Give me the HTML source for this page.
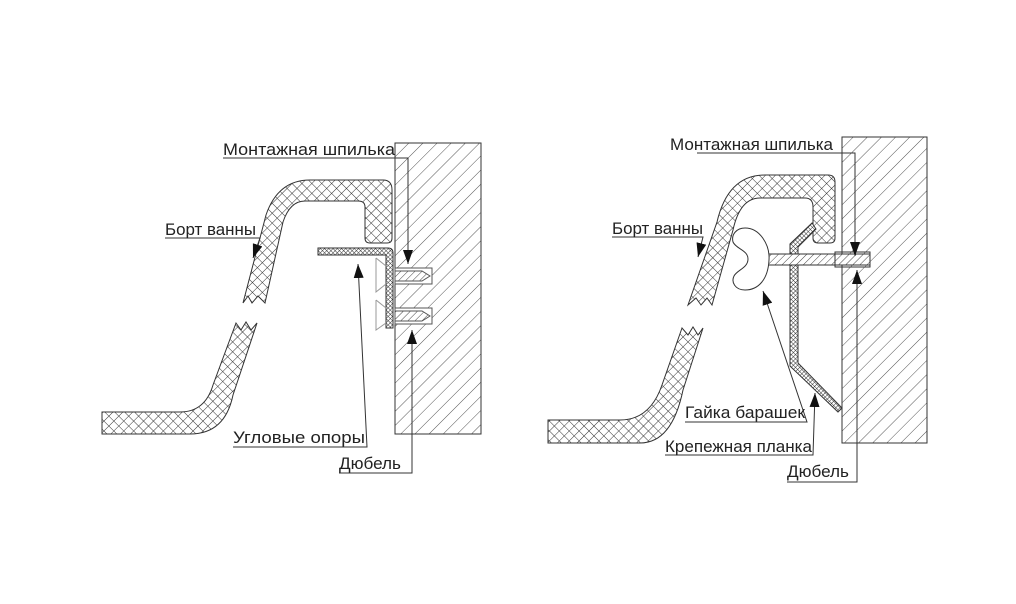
<!DOCTYPE html>
<html><head><meta charset="utf-8"><style>
html,body{margin:0;padding:0;background:#fff;width:1016px;height:604px;overflow:hidden}
text{font-family:"Liberation Sans",sans-serif;font-size:17px;fill:#222}
</style></head><body>
<svg width="1016" height="604" viewBox="0 0 1016 604" xmlns="http://www.w3.org/2000/svg">
<defs>
<pattern id="cross" width="7" height="7" patternUnits="userSpaceOnUse" patternTransform="rotate(45)">
<rect width="7" height="7" fill="#fff"/>
<line x1="0" y1="0" x2="7" y2="0" stroke="#333" stroke-width="1"/>
<line x1="0" y1="0" x2="0" y2="7" stroke="#333" stroke-width="1"/>
</pattern>
<pattern id="fine" width="3" height="3" patternUnits="userSpaceOnUse" patternTransform="rotate(45)">
<rect width="3" height="3" fill="#fff"/>
<line x1="0" y1="0" x2="3" y2="0" stroke="#333" stroke-width="1"/>
<line x1="0" y1="0" x2="0" y2="3" stroke="#333" stroke-width="1"/>
</pattern>
<pattern id="wall" width="10" height="10" patternUnits="userSpaceOnUse" patternTransform="rotate(-45)">
<rect width="10" height="10" fill="#fff"/>
<line x1="0" y1="0" x2="10" y2="0" stroke="#555" stroke-width="1"/>
</pattern>
<pattern id="hatch" width="5" height="5" patternUnits="userSpaceOnUse" patternTransform="rotate(-45)">
<rect width="5" height="5" fill="#fff"/>
<line x1="0" y1="0" x2="5" y2="0" stroke="#444" stroke-width="1"/>
</pattern>
<marker id="ar" markerWidth="14" markerHeight="10" refX="14" refY="5" orient="auto" markerUnits="userSpaceOnUse" viewBox="0 0 14 10">
<path d="M0,0 L14,5 L0,10 Z" fill="#111"/>
</marker>
</defs>

<!-- LEFT -->
<rect x="395" y="143" width="86" height="291" fill="url(#wall)" stroke="#333"/>
<path d="M243,303 L266,215 Q278,180 310,180 L383,180 Q392,180 392,190 L392,238 Q392,243 387,243 L370,243 Q365,243 365,238 L365,207 Q365,201 358,201 L305,201 Q290,201 283,222 L265,303 L258,296 L252,303 L248,296 Z" fill="url(#cross)" stroke="#333"/>
<path d="M236,323 L213,385 Q205,412 180,412 L102,412 L102,434 L190,434 Q225,434 233,395 L257,323 L251,330 L246,322 L241,330 Z" fill="url(#cross)" stroke="#333"/>
<path d="M318,248 L388,248 Q393,248 393,253 L393,328 L386,328 L386,255 L318,255 Z" fill="url(#fine)" stroke="#333"/>
<path d="M376,258 L386,266 M376,258 L376,292 L386,284 M376,300 L386,308 M376,300 L376,330 L386,323" stroke="#999" fill="none"/>
<rect x="395" y="268" width="37" height="16" fill="#fff" stroke="#555"/>
<path d="M395,271 L422,271 L430,276 L422,281 L395,281 Z" fill="url(#hatch)" stroke="#555"/>
<rect x="395" y="308" width="37" height="16" fill="#fff" stroke="#555"/>
<path d="M395,311 L422,311 L430,316 L422,321 L395,321 Z" fill="url(#hatch)" stroke="#555"/>

<g stroke="#333" fill="none" stroke-width="1">
<path d="M223,158 L408,158 L408,264" marker-end="url(#ar)"/>
<path d="M165,238 L260,238 L253,258" marker-end="url(#ar)"/>
<path d="M233,447 L367,447 L358,264" marker-end="url(#ar)"/>
<path d="M339,473 L412,473 L412,330" marker-end="url(#ar)"/>
</g>
<text x="223" y="155" textLength="172" lengthAdjust="spacingAndGlyphs">Монтажная шпилька</text>
<text x="165" y="235" textLength="91" lengthAdjust="spacingAndGlyphs">Борт ванны</text>
<text x="233" y="443" textLength="132" lengthAdjust="spacingAndGlyphs">Угловые опоры</text>
<text x="339" y="469" textLength="62" lengthAdjust="spacingAndGlyphs">Дюбель</text>

<!-- RIGHT -->
<rect x="842" y="137" width="85" height="306" fill="url(#wall)" stroke="#333"/>
<path d="M688,305 L717,222 Q728,175 765,175 L828,175 Q835,175 835,182 L835,238 Q835,243 830,243 L818,243 Q813,243 813,238 L813,207 Q813,198 805,198 L760,198 Q740,198 733,230 L712,305 L707,298 L701,305 L696,298 Z" fill="url(#cross)" stroke="#333"/>
<path d="M682,328 L662,385 Q650,420 620,420 L548,420 L548,443 L640,443 Q672,443 683,390 L703,328 L698,335 L693,327 L688,335 Z" fill="url(#cross)" stroke="#333"/>
<path d="M812,223 L790,244 L790,366 L838,412 L842,408 L798,363 L798,247 L816,229 Z" fill="url(#fine)" stroke="#333"/>
<rect x="752" y="254" width="118" height="11" fill="url(#hatch)" stroke="#333"/>
<rect x="835" y="252" width="35" height="15" fill="none" stroke="#333"/>
<path d="M745,228 C760,228 770,245 769,260 C768,280 758,290 745,290 C735,290 731,282 734,276 C737,270 748,268 748,259 C748,250 736,249 733,242 C731,234 737,228 745,228 Z" fill="#fff" stroke="#333"/>

<g stroke="#333" fill="none" stroke-width="1">
<path d="M697,153 L855,153 L855,256" marker-end="url(#ar)"/>
<path d="M612,237 L703,237 L698,257" marker-end="url(#ar)"/>
<path d="M685,422 L807,422 L763,291" marker-end="url(#ar)"/>
<path d="M665,455 L813,455 L815,393" marker-end="url(#ar)"/>
<path d="M787,482 L857,482 L857,270" marker-end="url(#ar)"/>
</g>
<text x="670" y="150" textLength="163" lengthAdjust="spacingAndGlyphs">Монтажная шпилька</text>
<text x="612" y="234" textLength="91" lengthAdjust="spacingAndGlyphs">Борт ванны</text>
<text x="685" y="418" textLength="120" lengthAdjust="spacingAndGlyphs">Гайка барашек</text>
<text x="665" y="452" textLength="147" lengthAdjust="spacingAndGlyphs">Крепежная планка</text>
<text x="787" y="477" textLength="62" lengthAdjust="spacingAndGlyphs">Дюбель</text>
</svg>
</body></html>
